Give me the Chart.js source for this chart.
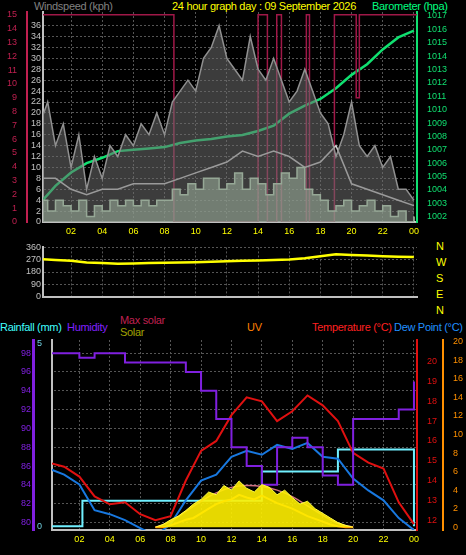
<!DOCTYPE html>
<html><head><meta charset="utf-8">
<script src="https://cdn.jsdelivr.net/npm/chart.js@4.4.1/dist/chart.umd.min.js"></script>
<style>
body{margin:0;background:#000;width:466px;height:555px;overflow:hidden;position:relative;font-family:"Liberation Sans",sans-serif;}
canvas{position:absolute;left:0}
.t{position:absolute;font-size:11px;letter-spacing:-0.3px;white-space:nowrap;line-height:12px}
.d{position:absolute;left:436px;font-size:11px;line-height:11px;color:#ffff00}
</style></head><body>
<div class="t" style="left:34px;top:0;color:#808080">Windspeed (kph)</div>
<div class="t" style="left:172px;top:0;color:#ffff00">24 hour graph day : 09 September 2026</div>
<div class="t" style="left:372px;top:0;color:#00ff80">Barometer (hpa)</div>
<div class="t" style="left:0;top:321px;color:#40ffff">Rainfall (mm)</div>
<div class="t" style="left:67px;top:321px;color:#8020ff">Humidity</div>
<div class="t" style="left:120px;top:314px;color:#c02050">Max solar</div>
<div class="t" style="left:120px;top:326px;color:#a0a000">Solar</div>
<div class="t" style="left:247px;top:321px;color:#ff8000">UV</div>
<div class="t" style="left:312px;top:321px;color:#ff2020">Temperature (°C)</div>
<div class="t" style="left:394px;top:321px;color:#2090ff">Dew Point (°C)</div>
<div class="d" style="top:241px">N</div>
<div class="d" style="top:257px">W</div>
<div class="d" style="top:273px">S</div>
<div class="d" style="top:289px">E</div>
<div class="d" style="top:305px">N</div>
<canvas id="c1" width="466" height="240" style="top:0"></canvas>
<canvas id="c2" width="466" height="64" style="top:240px"></canvas>
<canvas id="c3" width="466" height="225" style="top:330px"></canvas>
<script>
// ---- data ----
const hours = [0,1,2,3,4,5,6,7,8,9,10,11,12,13,14,15,16,17,18,19,20,21,22,23,24];
const halfHours = Array.from({length: 49}, (_, i) => i / 2);
const timeTicks = [2,4,6,8,10,12,14,16,18,20,22,24];

const barometer = [1003,1004.3,1005.3,1006,1006.4,1006.9,1007,1007.1,1007.2,1007.5,1007.7,1007.8,1008,1008.1,1008.4,1008.8,1009.7,1010.3,1010.8,1011.6,1012.6,1013.4,1014.5,1015.4,1015.9];
const windGust = [18,22,14,18,10,16,6,12,8,14,12,16,14,18,16,20,16,22,24,26,24,30,32,36,30,28,26,34,28,26,30,26,22,24,28,24,20,18,12,16,22,14,12,14,10,12,6,6,4];
const windAvg = [8,8,6,5,6,6,7,7,7,8,9,10,11,13,12,13,12,10,11,14,7,6,5,4,3];
const windSpeed = [4,2,4,3,2,4,1,3,2,4,3,4,3,4,3,4,4,6,5,7,6,8,8,6,7,9,6,8,7,5,7,9,8,10,6,5,4,2,3,4,2,3,4,2,3,1,2,0,1];
const stepTimes = [0,8.6,8.6,14.0,14.0,14.6,14.6,15.2,15.2,15.5,15.5,17.1,17.1,17.3,17.3,18.9,18.9,20.3,20.3,20.5,20.5,24.2];
const stepValues = [15,15,0,0,15,15,0,0,15,15,0,0,15,15,0,0,15,15,9,9,15,15];

const windDir = [275,268,262,250,245,240,242,245,248,250,252,255,258,262,265,268,272,280,295,310,305,300,295,292,290];

const humidity = [98,98,97.5,98,98,97,97,97,97,96,94,91,88,86,84,88,89,88,85,84,91,91,91,92,95];
const temperature = [14.9,14.7,14.2,13.2,12.8,12.9,12.3,12.0,12.2,14,15.5,16,17.3,18.2,18.0,17.0,17.5,18.3,17.8,17.0,15.4,14.9,14.6,12.9,11.8];
const dewPoint = [14.6,14.3,13.8,12.5,12.3,12,11.6,11.2,11.8,13,14,14.3,15.2,15.5,15.3,15.8,15.6,15.9,15.2,15.1,14.1,13.5,13,12.1,11.5];
const rainTimes = [0,2.2,2.2,14,14,19,19,24,24];
const rainValues = [0,0,0.7,0.7,1.5,1.5,2.1,2.1,0];
const sunHours = [7,8,9,10,11,12,13,14,15,16,17,18,19,20];
const maxSolar = [0,0.6,1.7,2.8,3.7,4.3,4.5,4.4,4,3.3,2.3,1.3,0.4,0];
const sunHalfHours = Array.from({length: 27}, (_, i) => 7 + i / 2);
const solar = [0,0.3,0.8,1.2,1.8,2.5,3,3.8,3.5,4.5,4,5,4.2,3.8,4.6,4.3,3.5,4,3.2,2.5,2.8,2,1.5,1,0.5,0.2,0];
const uv = [0,0,0.2,0.5,0.8,1,1.5,2,2.5,2.8,3,3.5,3.2,3,3.4,3,2.6,2.3,2,1.6,1.2,0.9,0.6,0.3,0.1,0,0];

const windTicks = [0,2,4,6,8,10,12,14,16,18,20,22,24,26,28,30,32,34,36];
const redTicks = [0,1,2,3,4,5,6,7,8,9,10,11,12,13,14,15];
const baroTicks = [1002,1003,1004,1005,1006,1007,1008,1009,1010,1011,1012,1013,1014,1015,1016,1017];
const dirTicks = [0,90,180,270,360];
const humTicks = [80,82,84,86,88,90,92,94,96,98];
const rainTicks = [0,5];
const tempTicks = [12,13,14,15,16,17,18,19,20];
const uvTicks = [0,2,4,6,8,10,12,14,16,18,20];

// ---- helpers ----
const pts = (xs, ys) => xs.map((x, i) => ({x, y: ys[i]}));
const font = {family: 'Liberation Sans', size: 9};
const gridDots = {color: '#555555', drawTicks: false};
const fixW = w => function (s) { s.width = w; };
const fixH = h => function (s) { s.height = h; };
const setTicks = list => function (s) { s.ticks = list.map(v => ({value: v})); };

function xAxis(show) {
  return {
    type: 'linear', min: 0.2, max: 24.2,
    afterBuildTicks: setTicks(timeTicks),
    ticks: {display: show, color: '#ffff00', font, padding: 4,
      callback: v => String(v % 24).padStart(2, '0')},
    grid: gridDots, border: {color: '#c0c0c0', width: 2, dash: [2, 2]},
    afterFit: fixH(show ? 18 : 2)
  };
}
function yAxis(pos, min, max, list, color, w, grid, extra) {
  return Object.assign({
    position: pos, min, max, afterBuildTicks: setTicks(list),
    ticks: {color, font, padding: 2, autoSkip: false, callback: v => String(v)},
    grid: grid ? gridDots : {display: false},
    border: {color: grid ? '#c0c0c0' : color, width: 2, dash: [2, 2]},
    afterFit: fixW(w)
  }, extra || {});
}
function line(data, color, axis, extra) {
  return Object.assign({type: 'line', data, borderColor: color, yAxisID: axis,
    borderWidth: 1.5, pointRadius: 0, tension: 0, fill: false}, extra || {});
}
const baseOpts = (scales, pad) => ({
  responsive: false, animation: false,
  layout: {padding: pad},
  plugins: {legend: {display: false}, tooltip: {enabled: false}},
  scales
});

// ---- top: wind & barometer ----
new Chart(document.getElementById('c1'), {
  data: {datasets: [
    line(pts(halfHours, windGust), '#909090', 'ys', {fill: 'origin', backgroundColor: 'rgba(110,110,110,0.55)'}),
    line(pts(halfHours, windSpeed), '#c8f0c8', 'ys', {fill: 'origin', backgroundColor: 'rgba(200,240,200,0.6)', stepped: true}),
    line(pts(hours, windAvg), '#d0d0d0', 'ys'),
    line(pts(stepTimes, stepValues), '#a01848', 'yr'),
    line(pts(hours, barometer), '#10e070', 'yb', {borderWidth: 2.5})
  ]},
  options: baseOpts({
    x: xAxis(true),
    ys: yAxis('left', 0, 38.5, windTicks, '#c0c0c0', 16, true),
    yr: yAxis('left', 0, 15.2, redTicks, '#c02050', 27, false),
    yb: yAxis('right', 1001.6, 1017.3, baroTicks, '#10e070', 49, false)
  }, {top: 12})
});

// ---- middle: wind direction ----
new Chart(document.getElementById('c2'), {
  data: {datasets: [line(pts(hours, windDir), '#ffff00', 'yd', {borderWidth: 2.5})]},
  options: baseOpts({
    x: xAxis(false),
    yd: yAxis('left', 0, 360, dirTicks, '#c0c0c0', 43, true)
  }, {top: 6, bottom: 4, right: 49})
});

// ---- bottom: temperature, humidity, rain, solar ----
new Chart(document.getElementById('c3'), {
  data: {datasets: [
    line(pts(sunHalfHours, solar), '#ffff40', 'yu', {fill: 'origin', backgroundColor: 'rgba(255,240,0,0.9)', borderWidth: 1}),
    line(pts(sunHalfHours, uv), '#ff9000', 'yu', {borderWidth: 2}),
    line(pts(sunHours, maxSolar), '#d07080', 'yu', {tension: 0.4}),
    line(pts(hours, humidity), '#8020e0', 'yh', {stepped: true, borderWidth: 2}),
    line(pts(hours, temperature), '#e01010', 'yt', {borderWidth: 2}),
    line(pts(hours, dewPoint), '#1878e0', 'yt', {borderWidth: 2}),
    line(pts(rainTimes, rainValues), '#70f0ff', 'yrain', {borderWidth: 2})
  ]},
  options: baseOpts({
    x: Object.assign(xAxis(true), {afterFit: fixH(20)}),
    yrain: yAxis('left', -0.1, 5.1, rainTicks, '#70d0e0', 19, false, {border: {color: '#c0c0c0', width: 2}}),
    yh: yAxis('left', 79.2, 99.4, humTicks, '#8020e0', 33, true, {border: {color: '#8020e0', width: 3, dash: [2, 2]}}),
    yt: yAxis('right', 11.5, 21.1, tempTicks, '#e01010', 26, false),
    yu: yAxis('right', -0.3, 20.2, uvTicks, '#ff9000', 23, false)
  }, {top: 10, bottom: 5})
});
</script>
</body></html>
